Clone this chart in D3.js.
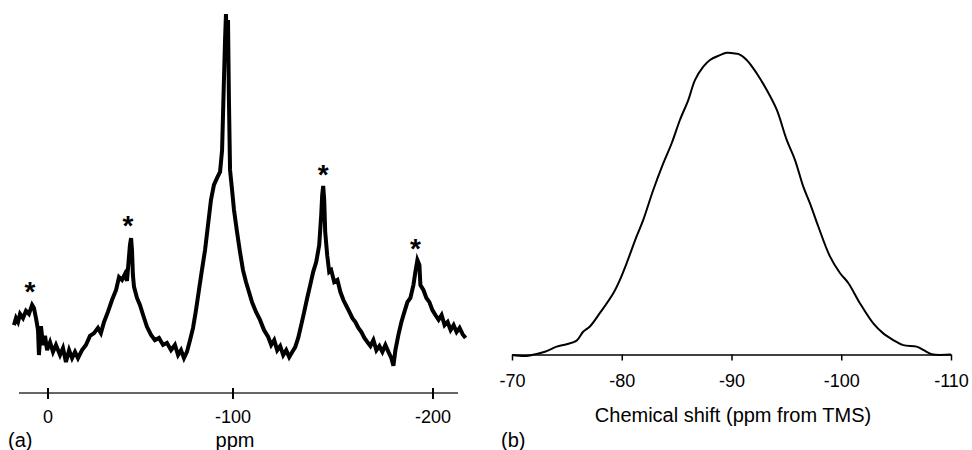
<!DOCTYPE html>
<html>
<head>
<meta charset="utf-8">
<script src="https://cdn.jsdelivr.net/npm/d3@7"></script>
<style>
  body { margin: 0; background: #fff; }
  text { font-family: "Liberation Sans", Arial, sans-serif; fill: #000; }
</style>
</head>
<body>
<div id="chart"></div>
<script>
// (a) MAS spectrum: [ppm, intensity]
const spectrumA = [
  [18.4, 10.6], [17.3, 12.6], [16.2, 11.5], [15.1, 13.8], [13.5, 12.6], [11.9, 14.7],
  [10.3, 13.8], [8.6, 16.4], [7.6, 15.5], [6.5, 12.6], [5.4, 9.2], [4.9, 2.0],
  [3.8, 10.3], [2.7, 4.9], [1.6, 7.5], [0.5, 3.4], [-1.1, 5.7], [-2.7, 2.9],
  [-4.3, 4.9], [-6.5, 2.0], [-8.1, 4.0], [-9.7, 0.0], [-11.4, 3.4], [-13.0, 1.1],
  [-14.6, 2.9], [-16.2, 1.1], [-18.4, 3.4], [-20.5, 4.9], [-22.7, 7.5], [-24.9, 8.3],
  [-27.0, 9.8], [-28.6, 8.3], [-30.3, 11.5], [-32.4, 14.4], [-34.6, 17.8], [-36.8, 20.7],
  [-38.4, 24.4], [-40.0, 23.6], [-41.6, 25.3], [-42.7, 23.3], [-43.8, 30.5], [-44.3, 33.6],
  [-44.9, 35.6], [-45.4, 32.2], [-45.9, 25.0], [-46.5, 21.6], [-48.1, 18.4], [-49.7, 16.4],
  [-51.4, 13.5], [-53.5, 10.1], [-55.7, 7.8], [-57.8, 6.3], [-60.0, 6.9], [-62.2, 4.9],
  [-64.3, 5.5], [-66.5, 3.4], [-68.6, 4.9], [-70.3, 2.0], [-71.9, 3.4], [-73.5, 1.1],
  [-75.1, 2.9], [-76.8, 6.3], [-78.4, 9.8], [-80.0, 14.9], [-81.6, 20.7], [-83.2, 26.4],
  [-84.9, 32.2], [-86.5, 39.4], [-88.1, 46.6], [-89.7, 50.9], [-91.4, 52.9], [-93.0, 54.6],
  [-94.1, 60.9], [-95.1, 81.0], [-95.7, 92.5], [-96.2, 100], [-96.8, 86.8], [-97.3, 98.3],
  [-97.8, 75.3], [-98.4, 55.2], [-99.5, 49.4], [-100.5, 43.7], [-102.0, 37.4], [-103.5, 31.6],
  [-105.0, 26.4], [-106.5, 23.0], [-108.0, 20.1], [-109.5, 17.2], [-111.5, 14.4], [-113.5, 12.1],
  [-115.5, 9.2], [-117.6, 7.2], [-119.1, 4.9], [-120.6, 6.3], [-122.1, 3.4], [-123.6, 4.6],
  [-125.1, 2.0], [-126.6, 3.4], [-128.1, 1.4], [-129.6, 2.9], [-131.1, 4.3], [-132.6, 6.9],
  [-134.1, 10.6], [-135.6, 14.4], [-137.1, 18.4], [-138.6, 22.1], [-140.1, 25.9], [-141.6, 28.7],
  [-143.1, 33.6], [-144.1, 42.2], [-144.6, 48.0], [-145.1, 50.6], [-145.6, 46.6], [-146.1, 37.4],
  [-147.1, 30.7], [-148.1, 25.9], [-149.1, 26.4], [-150.6, 23.0], [-152.2, 23.6], [-153.7, 20.1],
  [-155.2, 17.8], [-156.7, 16.1], [-158.2, 14.4], [-159.7, 12.6], [-161.2, 11.5], [-162.7, 9.8],
  [-164.2, 8.6], [-165.7, 6.9], [-167.2, 5.7], [-168.7, 4.6], [-170.2, 6.3], [-171.7, 3.4],
  [-173.2, 4.6], [-174.7, 2.9], [-176.2, 4.9], [-177.7, 2.9], [-179.2, 1.1], [-180.2, -1.1],
  [-181.2, 3.4], [-182.7, 7.8], [-184.2, 11.5], [-185.7, 14.4], [-187.2, 17.2], [-188.7, 18.4],
  [-190.2, 22.1], [-191.2, 25.9], [-192.2, 29.3], [-193.2, 27.9], [-193.7, 22.1], [-195.2, 20.7],
  [-196.7, 18.4], [-198.2, 17.2], [-199.7, 14.9], [-201.2, 13.5], [-202.8, 12.1], [-204.3, 13.5],
  [-205.8, 10.6], [-207.3, 11.5], [-208.8, 9.2], [-210.3, 10.6], [-211.8, 8.6], [-213.3, 9.8],
  [-214.8, 8.0], [-216.3, 6.9]
];

// spinning sidebands marked with *
const sidebandPpm = [9.7, -43.2, -145.1, -191.2];
const sidebandLevel = [22.4, 41.4, 56.0, 34.8];

const ticksA = [0, -100, -200];

// (b) single broad line: [ppm, intensity]
const spectrumB = [
  [-70.0, -0.2], [-71.34, -0.5], [-72.25, 0.2], [-73.0, 0.9], [-74.07, 2.6], [-74.98, 3.4],
  [-75.89, 4.6], [-76.5, 7.6], [-77.1, 9.3], [-78.0, 13.7], [-79.23, 20.3], [-79.84, 24.8],
  [-80.45, 30.3], [-81.36, 39.2], [-81.96, 44.6], [-82.87, 54.5], [-83.78, 63.3], [-84.55, 70.0],
  [-85.3, 77.7], [-86.06, 84.3], [-86.67, 90.9], [-87.43, 95.4], [-88.04, 97.6], [-88.95, 99.2],
  [-89.56, 100], [-90.16, 99.8], [-90.62, 99.6], [-91.38, 97.6], [-92.29, 93.2], [-93.2, 87.7],
  [-94.12, 81.1], [-95.03, 71.1], [-95.78, 64.5], [-96.54, 55.6], [-97.15, 50.1], [-97.9, 42.5],
  [-98.97, 32.5], [-99.88, 27.0], [-100.64, 23.7], [-101.7, 17.0], [-102.92, 10.3], [-103.83, 7.0],
  [-104.74, 4.8], [-105.65, 3.1], [-106.87, 2.6], [-107.47, 1.5], [-108.24, 0.1], [-110.0, 0.0]
];

const ticksB = [-70, -80, -90, -100, -110];

const width = 972, height = 450;

const svg = d3.select("#chart")
  .append("svg")
  .attr("width", width)
  .attr("height", height);

// ---------- panel (a) ----------
const xA = d3.scaleLinear()
  .domain([0, -100, -200])
  .range([48, 233, 433]);
const yA = d3.scaleLinear()
  .domain([0, 100])
  .range([362, 14]);

const axisYA = 393;

svg.append("line")
  .attr("x1", 19).attr("x2", 458)
  .attr("y1", axisYA).attr("y2", axisYA)
  .attr("stroke", "#333")
  .attr("stroke-width", 1.5);

svg.selectAll(".tickA")
  .data(ticksA)
  .enter()
  .append("line")
  .attr("class", "tickA")
  .attr("x1", d => xA(d)).attr("x2", d => xA(d))
  .attr("y1", axisYA - 5).attr("y2", axisYA + 6)
  .attr("stroke", "#000")
  .attr("stroke-width", 2);

svg.selectAll(".tickLabelA")
  .data(ticksA)
  .enter()
  .append("text")
  .attr("class", "tickLabelA")
  .attr("x", d => xA(d))
  .attr("y", 423)
  .attr("text-anchor", "middle")
  .attr("font-size", "18px")
  .text(d => d);

svg.append("text")
  .attr("x", 235).attr("y", 447)
  .attr("text-anchor", "middle")
  .attr("font-size", "20px")
  .text("ppm");

svg.append("text")
  .attr("x", 8).attr("y", 447)
  .attr("font-size", "20px")
  .text("(a)");

const lineA = d3.line()
  .x(d => xA(d[0]))
  .y(d => yA(d[1]));

svg.append("path")
  .datum(spectrumA)
  .attr("d", lineA)
  .attr("fill", "none")
  .attr("stroke", "#000")
  .attr("stroke-width", 4)
  .attr("stroke-linejoin", "miter");

svg.selectAll(".star")
  .data(sidebandPpm)
  .enter()
  .append("text")
  .attr("class", "star")
  .attr("x", d => xA(d))
  .attr("y", (d, i) => yA(sidebandLevel[i]) + 17)
  .attr("text-anchor", "middle")
  .attr("font-size", "28px")
  .attr("font-weight", "bold")
  .text("*");

// ---------- panel (b) ----------
const xB = d3.scaleLinear()
  .domain([-70, -110])
  .range([512, 951]);
const yB = d3.scaleLinear()
  .domain([0, 100])
  .range([354.5, 52.7]);

const axisB = d3.axisBottom(xB)
  .tickValues(ticksB)
  .tickFormat(d => String(d))
  .tickSize(6)
  .tickSizeOuter(0)
  .tickPadding(14);

const gB = svg.append("g")
  .attr("transform", `translate(0,${yB(0)})`)
  .call(axisB);

gB.select(".domain").attr("stroke-width", 1.5);
gB.selectAll(".tick line").attr("stroke-width", 1.5);
gB.selectAll(".tick text")
  .attr("font-size", "18px")
  .attr("font-family", "Liberation Sans, Arial, sans-serif");

svg.append("text")
  .attr("x", 733).attr("y", 422)
  .attr("text-anchor", "middle")
  .attr("font-size", "20px")
  .text("Chemical shift (ppm from TMS)");

svg.append("text")
  .attr("x", 501).attr("y", 447)
  .attr("font-size", "20px")
  .text("(b)");

const lineB = d3.line()
  .x(d => xB(d[0]))
  .y(d => yB(d[1]))
  .curve(d3.curveCatmullRom);

svg.append("path")
  .datum(spectrumB)
  .attr("d", lineB)
  .attr("fill", "none")
  .attr("stroke", "#000")
  .attr("stroke-width", 2);
</script>
</body>
</html>
